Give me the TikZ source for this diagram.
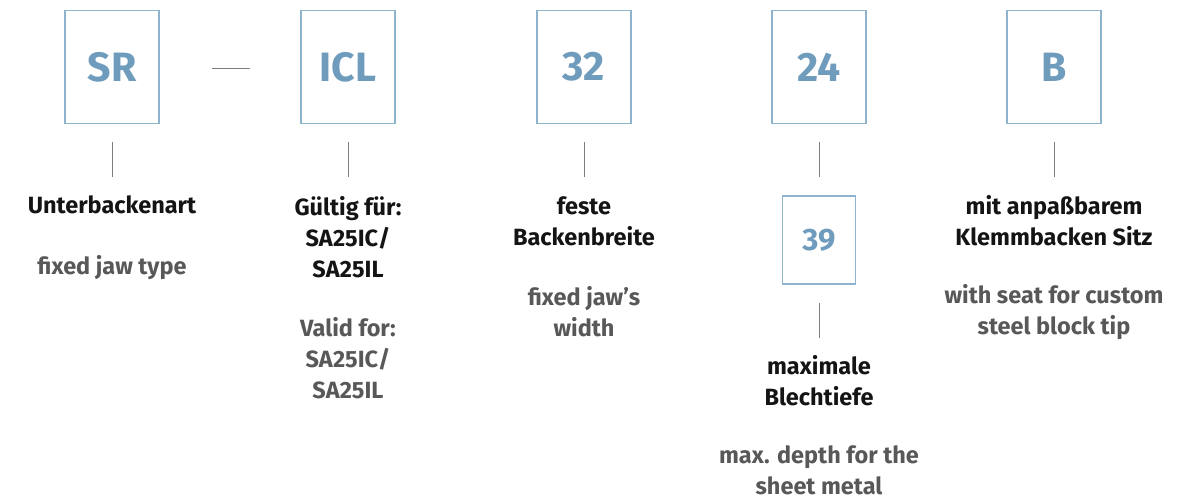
\documentclass[tikz,border=0pt]{standalone}
\usepackage{fontspec}
\setmainfont{Fira Sans}
\definecolor{boxline}{RGB}{143,178,205}
\definecolor{boxtext}{RGB}{111,156,188}
\definecolor{darktext}{RGB}{20,20,20}
\definecolor{greytext}{RGB}{88,88,88}
\definecolor{tick}{RGB}{125,125,125}
\begin{document}
\begin{tikzpicture}[x=1pt,y=-1pt,
  codebox/.style={draw=boxline,line width=1.6pt,minimum width=94pt,minimum height=113pt,inner sep=0pt,
    text=boxtext,font=\fontsize{41}{41}\selectfont\bfseries},
  smallbox/.style={draw=boxline,line width=1.6pt,minimum width=73pt,minimum height=88pt,inner sep=0pt,
    text=boxtext,font=\fontsize{31}{31}\selectfont\bfseries},
  de/.style={align=center,text=darktext,inner sep=0pt,font=\fontsize{23.5}{31}\selectfont\bfseries},
  en/.style={align=center,text=greytext,inner sep=0pt,font=\fontsize{23.5}{31}\selectfont\bfseries},
  tickline/.style={draw=tick,line width=1pt}]
\useasboundingbox (0,0) rectangle (1195,499);
\node[codebox] (bSR) at (112,67) {SR};
\node[codebox] (bICL) at (348,67) {ICL};
\node[codebox] (b32) at (584,67) {32};
\node[codebox] (b24) at (819,67) {24};
\node[codebox] (bB) at (1054,67) {B};
\node[smallbox] (b39) at (819,240) {39};
\coordinate (d1) at (212,68); \coordinate (d2) at (250,68);
\draw[tickline] (d1) -- (d2);
\foreach \n/\x in {SR/112,ICL/348,32/584,24/819,B/1054}{
  \coordinate (t\n a) at (\x,142); \coordinate (t\n b) at (\x,177);
  \draw[tickline] (t\n a) -- (t\n b);}
\coordinate (t39a) at (819,303); \coordinate (t39b) at (819,338);
\draw[tickline] (t39a) -- (t39b);
\node[de] (l1) at (112,205) {Unterbackenart};
\node[en] (e1) at (112,268) {fixed jaw type};
\node[de] (l2) at (348,237) {Gültig für:\\SA25IC/\\SA25IL};
\node[en] (e2) at (348,358) {Valid for:\\SA25IC/\\SA25IL};
\node[de] (l3) at (584,221) {feste\\Backenbreite};
\node[en] (e3) at (584,312) {fixed jaw’s\\width};
\node[de] (l4) at (819,381) {maximale\\Blechtiefe};
\node[en] (e4) at (819,470) {max. depth for the\\sheet metal};
\node[de] (l5) at (1054,221) {mit anpaßbarem\\Klemmbacken Sitz};
\node[en] (e5) at (1054,312) {with seat for custom\\steel block tip};
\end{tikzpicture}
\end{document}
